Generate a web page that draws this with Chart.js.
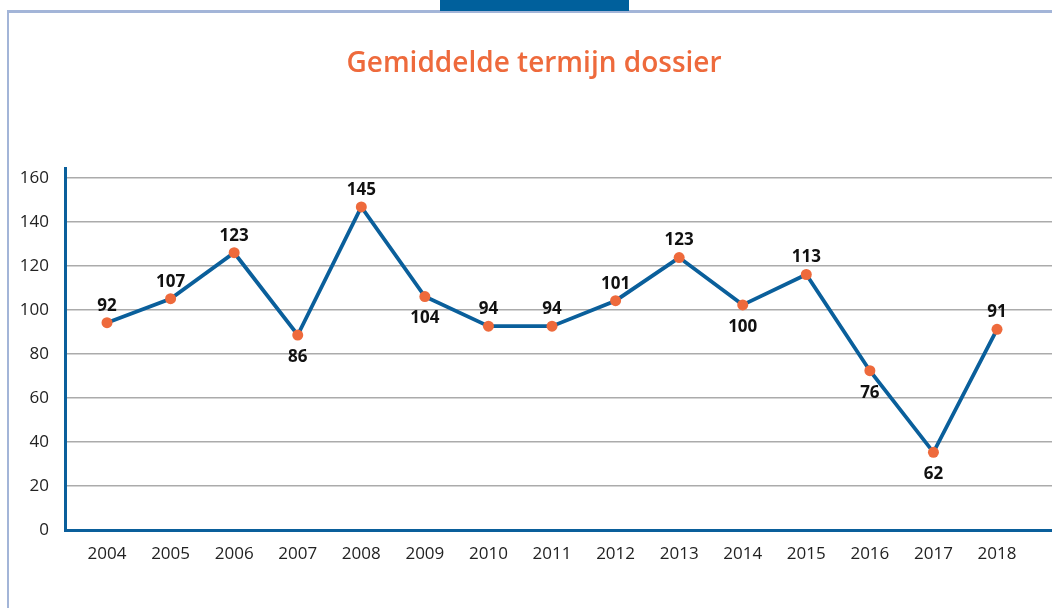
<!DOCTYPE html>
<html>
<head>
<meta charset="utf-8">
<script src="https://cdn.jsdelivr.net/npm/chart.js@4"></script>
<style>
  html, body { margin: 0; padding: 0; background: #ffffff; }
  #wrap { position: relative; width: 1052px; height: 608px; overflow: hidden; }
  #frameTop { position: absolute; left: 7px; top: 10px; width: 1045px; height: 3px; background: #a3b5d8; }
  #frameLeft { position: absolute; left: 7px; top: 10px; width: 2px; height: 598px; background: #a3b5d8; }
  #tab { position: absolute; left: 440px; top: 0; width: 189px; height: 11px; background: #00609c; }
  canvas { position: absolute; left: 16px; top: 0; }
</style>
</head>
<body>
<div id="wrap">
  <div id="frameTop"></div>
  <div id="frameLeft"></div>
  <div id="tab"></div>
  <canvas id="c" width="1036" height="608"></canvas>
</div>
<script>
// ---- data ----
const titleText = 'Gemiddelde termijn dossier';
const years = [2004, 2005, 2006, 2007, 2008, 2009, 2010, 2011, 2012, 2013, 2014, 2015, 2016, 2017, 2018];
// plotted point heights as drawn in the picture
const values = [94.2, 105.1, 126.0, 88.6, 146.8, 106.1, 92.6, 92.6, 104.2, 123.8, 102.3, 116.1, 72.4, 35.3, 91.2];
// value labels as printed in the picture
const valueLabels = ['92', '107', '123', '86', '145', '104', '94', '94', '101', '123', '100', '113', '76', '62', '91'];
const yTicks = [0, 20, 40, 60, 80, 100, 120, 140, 160];

const BLUE = '#0a5f9b';
const ORANGE = '#ee6a3c';

const labelsBelow = new Set([3, 5, 10, 12, 13]);

const valueLabelPlugin = {
  id: 'valueLabels',
  afterDatasetsDraw(chart) {
    const meta = chart.getDatasetMeta(0);
    const ctx = chart.ctx;
    ctx.save();
    ctx.font = 'bold 17px "Open Sans"';
    ctx.fillStyle = '#111111';
    ctx.textAlign = 'center';
    ctx.textBaseline = 'middle';
    meta.data.forEach((pt, i) => {
      const below = labelsBelow.has(i);
      const y = below ? pt.y + 22 : pt.y - 17;
      ctx.fillText(valueLabels[i], pt.x, y);
    });
    ctx.restore();
  }
};

new Chart(document.getElementById('c'), {
  type: 'line',
  data: {
    datasets: [{
      data: years.map((yr, i) => ({ x: yr, y: values[i] })),
      borderColor: BLUE,
      borderWidth: 3.8,
      tension: 0,
      pointRadius: 5.5,
      pointHoverRadius: 5.5,
      pointBackgroundColor: ORANGE,
      pointBorderColor: ORANGE,
      pointBorderWidth: 0,
      clip: false
    }]
  },
  options: {
    responsive: false,
    animation: false,
    devicePixelRatio: 1,
    layout: { autoPadding: false, padding: { left: 0, right: 0, top: 0, bottom: 0 } },
    plugins: {
      legend: { display: false },
      tooltip: { enabled: false },
      title: {
        display: true,
        text: titleText,
        color: ORANGE,
        font: { family: 'Open Sans', size: 28, weight: '600', lineHeight: 1.2 },
        padding: { top: 47, bottom: 87.4 }
      }
    },
    scales: {
      x: {
        type: 'linear',
        min: 2003.339,
        max: 2018.865,
        afterBuildTicks: (axis) => { axis.ticks = years.map(v => ({ value: v })); },
        afterFit: (axis) => { axis.height = 78; axis.paddingLeft = 0; axis.paddingRight = 0; },
        grid: { display: false, drawTicks: false },
        border: { display: true, color: BLUE, width: 3 },
        ticks: {
          autoSkip: false,
          maxRotation: 0,
          padding: 14,
          color: '#222222',
          font: { family: 'Open Sans', size: 17 },
          callback: (v) => String(v)
        }
      },
      y: {
        type: 'linear',
        min: 0,
        max: 164.5,
        afterBuildTicks: (axis) => { axis.ticks = yTicks.map(v => ({ value: v })); },
        afterFit: (axis) => { axis.width = 49; axis.paddingTop = 0; axis.paddingBottom = 0; },
        grid: {
          drawTicks: false,
          lineWidth: 1.5,
          color: (c) => (c.tick && c.tick.value === 0) ? 'rgba(0,0,0,0)' : '#ababab'
        },
        border: { display: true, color: BLUE, width: 3 },
        ticks: {
          padding: 16,
          color: '#222222',
          font: { family: 'Open Sans', size: 17 },
          callback: (v) => String(v)
        }
      }
    }
  },
  plugins: [valueLabelPlugin]
});
</script>
</body>
</html>
